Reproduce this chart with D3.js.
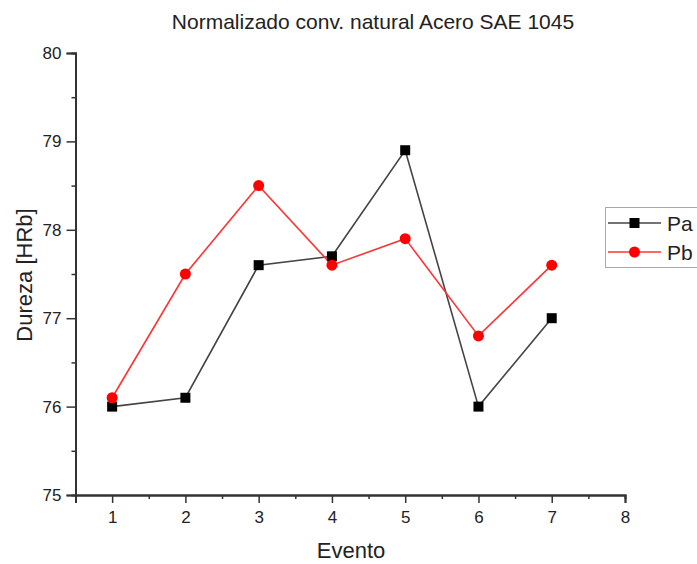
<!DOCTYPE html>
<html><head><meta charset="utf-8">
<script src="https://cdn.jsdelivr.net/npm/d3@7"></script>
<style>body{margin:0;background:#fff;}svg{display:block;font-family:"Liberation Sans",Arial,sans-serif;}</style>
</head><body>
<svg id="c" width="697" height="564"></svg>
<script>
const eventos = [1, 2, 3, 4, 5, 6, 7];
const pa = [76.0, 76.1, 77.6, 77.7, 78.9, 76.0, 77.0];
const pb = [76.1, 77.5, 78.5, 77.6, 77.9, 76.8, 77.6];
const xTicks = [1, 2, 3, 4, 5, 6, 7, 8];
const yTicks = [75, 76, 77, 78, 79, 80];
const title = "Normalizado conv. natural Acero SAE 1045";

const svg = d3.select("#c");
const x = d3.scaleLinear().domain([0.5, 8]).range([75.5, 625]);
const y = d3.scaleLinear().domain([75, 80]).range([495, 53]);
const axisColor = "#333";

const gx = svg.append("g").attr("transform", "translate(0,495)");
gx.call(d3.axisBottom(x).tickValues(d3.range(1.5, 8, 1)).tickSize(4).tickFormat(""));
gx.append("g").call(d3.axisBottom(x).tickValues(xTicks).tickSize(8).tickPadding(8).tickFormat(d3.format("d")));
gx.selectAll("path").attr("stroke", axisColor).attr("stroke-width", 2);
gx.selectAll("line").attr("stroke", axisColor).attr("stroke-width", 1.5);
gx.selectAll("text").attr("font-size", 17).attr("fill", "#222").attr("font-family", "Liberation Sans, Arial, sans-serif");

const gy = svg.append("g").attr("transform", "translate(75.5,0)");
gy.call(d3.axisLeft(y).tickValues(d3.range(75.5, 80, 1)).tickSize(4).tickFormat(""));
gy.append("g").call(d3.axisLeft(y).tickValues(yTicks).tickSize(9).tickPadding(5).tickFormat(d3.format("d")));
gy.selectAll("path").attr("stroke", axisColor).attr("stroke-width", 2);
gy.selectAll("line").attr("stroke", axisColor).attr("stroke-width", 1.5);
gy.selectAll("text").attr("font-size", 17).attr("fill", "#222").attr("font-family", "Liberation Sans, Arial, sans-serif");

const line = d3.line().x((d, i) => x(eventos[i])).y(d => y(d));
svg.append("path").datum(pa).attr("d", line).attr("fill", "none").attr("stroke", "#444").attr("stroke-width", 1.6);
svg.append("path").datum(pb).attr("d", line).attr("fill", "none").attr("stroke", "#ff3333").attr("stroke-width", 1.6);
svg.selectAll(".sq").data(pa).enter().append("rect")
  .attr("x", (d, i) => x(eventos[i]) - 5).attr("y", d => y(d) - 5)
  .attr("width", 10).attr("height", 10).attr("fill", "#000");
svg.selectAll(".ci").data(pb).enter().append("circle")
  .attr("cx", (d, i) => x(eventos[i])).attr("cy", d => y(d))
  .attr("r", 5.5).attr("fill", "#ff0000");

svg.append("text").attr("x", 373).attr("y", 29).attr("text-anchor", "middle")
  .attr("font-size", 21).attr("fill", "#222").text(title);
svg.append("text").attr("x", 351).attr("y", 558).attr("text-anchor", "middle")
  .attr("font-size", 22).attr("fill", "#222").text("Evento");
svg.append("text").attr("transform", "translate(32,275) rotate(-90)").attr("text-anchor", "middle")
  .attr("font-size", 22).attr("fill", "#222").text("Dureza [HRb]");

const lg = svg.append("g");
lg.append("rect").attr("x", 605.5).attr("y", 207.5).attr("width", 100).attr("height", 60)
  .attr("fill", "#fff").attr("stroke", "#aaa").attr("stroke-width", 1);
const items = [{n: "Pa", c: "#444", m: "sq", yy: 223}, {n: "Pb", c: "#ff3333", m: "ci", yy: 252}];
items.forEach(it => {
  lg.append("line").attr("x1", 608).attr("x2", 661).attr("y1", it.yy).attr("y2", it.yy)
    .attr("stroke", it.c).attr("stroke-width", 1.6);
  if (it.m === "sq") lg.append("rect").attr("x", 629.5).attr("y", it.yy - 5).attr("width", 10).attr("height", 10).attr("fill", "#000");
  else lg.append("circle").attr("cx", 634.5).attr("cy", it.yy).attr("r", 5.5).attr("fill", "#ff0000");
  lg.append("text").attr("x", 667).attr("y", it.yy + 7.5).attr("font-size", 21).attr("fill", "#222").text(it.n);
});
</script>
</body></html>
